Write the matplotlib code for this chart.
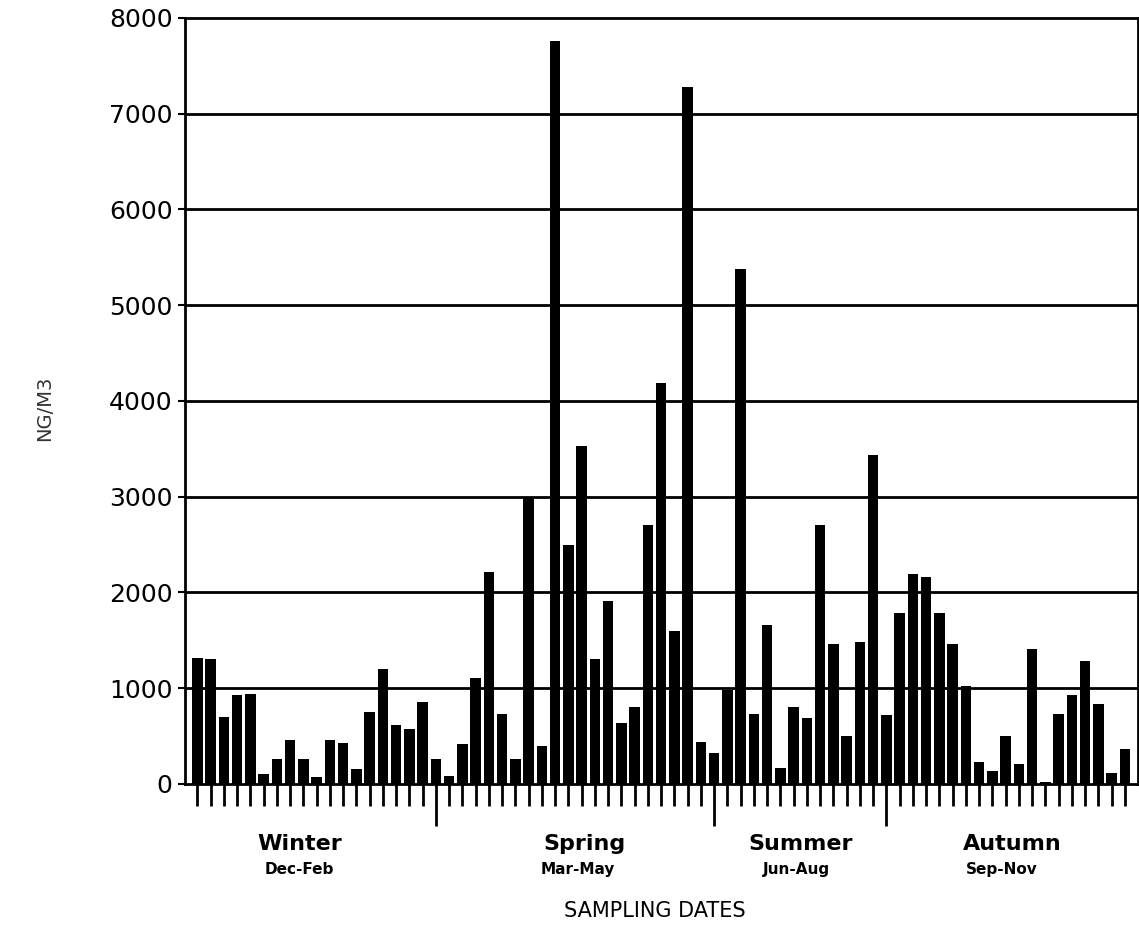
import numpy as np
import matplotlib.pyplot as plt
from matplotlib.transforms import blended_transform_factory

# concentration per sampling date (NG/M3)
values = [
    1315, 1308, 704, 931, 941, 101, 258, 460, 259, 70,
    455, 425, 154, 753, 1200, 614, 572, 861, 259, 84,
    418, 1102, 2210, 729, 258, 3000, 397, 7760, 2500, 3535,
    1304, 1907, 635, 809, 2700, 4190, 1600, 7280, 443, 321,
    983, 5380, 729, 1663, 164, 809, 687, 2700, 1464, 502,
    1478, 3440, 722, 1785, 2197, 2162, 1785, 1464, 1025, 233,
    139, 502, 209, 1409, 24, 729, 931, 1280, 837, 112,
    363,
]
season_breaks = [18, 39, 52]
seasons = ["Winter", "Spring", "Summer", "Autumn"]
months = ["Dec-Feb", "Mar-May", "Jun-Aug", "Sep-Nov"]
season_x = [7.7, 29.2, 45.5, 61.5]
month_x = [7.7, 28.7, 45.2, 60.7]
yticks = [0, 1000, 2000, 3000, 4000, 5000, 6000, 7000, 8000]

fig = plt.figure(figsize=(11.39, 9.36), dpi=100)
ax = fig.add_axes([0.1624, 0.1624, 0.8366, 0.8184])

x = np.arange(len(values))
ax.bar(x, values, width=0.8, color="black", zorder=3)

ax.set_xlim(-0.94, 70.98)
ax.set_ylim(0, 8000)
ax.set_yticks(yticks)
ax.set_yticklabels([str(v) for v in yticks], fontsize=18)
for v in yticks[1:-1]:
    ax.axhline(v, color="black", lw=2, zorder=2)

ax.set_xticks(season_breaks)
ax.set_xticklabels([])
ax.set_xticks(x, minor=True)
ax.tick_params(axis="x", which="minor", direction="out", length=16, width=2, pad=2)
ax.tick_params(axis="x", which="major", direction="out", length=30, width=2)
ax.tick_params(axis="y", direction="out", length=5, width=1.5, pad=4)
for s in ax.spines.values():
    s.set_linewidth(2)

tr = blended_transform_factory(ax.transData, ax.transAxes)
for sx, name in zip(season_x, seasons):
    ax.text(sx, -0.078, name, transform=tr, ha="center", va="center",
            fontsize=16, fontweight="bold")
for mx, m in zip(month_x, months):
    ax.text(mx, -0.111, m, transform=tr, ha="center", va="center",
            fontsize=11, fontweight="bold")

fig.text(655 / 1139, 1 - 911 / 936, "SAMPLING DATES", ha="center", va="center",
         fontsize=15)
fig.text(45 / 1139, 1 - 408 / 936, "NG/M3", ha="center", va="center",
         rotation=90, fontsize=14, color="#333333")

fig.savefig("out.png", dpi=100)
